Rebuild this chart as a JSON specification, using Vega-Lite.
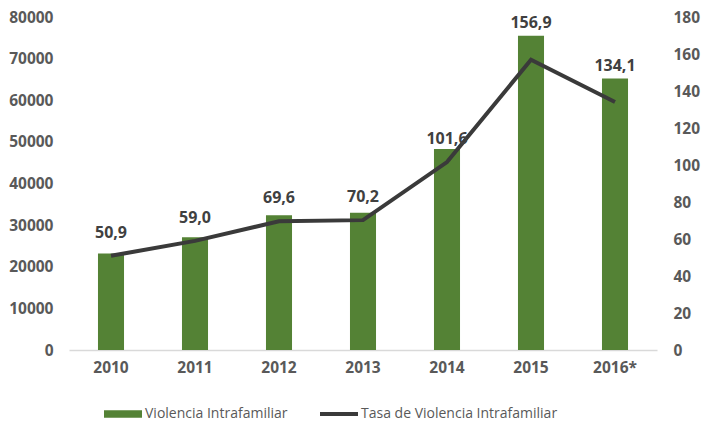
{
  "$schema": "https://vega.github.io/schema/vega-lite/v6.json",
  "width": 588,
  "height": 333,
  "autosize": {"type": "none"},
  "padding": {"left": 69, "top": 17, "right": 44, "bottom": 72},
  "background": "white",
  "data": {
    "values": [
      {"year": "2010", "count": 23200, "rate": 50.9, "label": "50,9"},
      {"year": "2011", "count": 27100, "rate": 59.0, "label": "59,0"},
      {"year": "2012", "count": 32400, "rate": 69.6, "label": "69,6"},
      {"year": "2013", "count": 33000, "rate": 70.2, "label": "70,2"},
      {"year": "2014", "count": 48300, "rate": 101.6, "label": "101,6"},
      {"year": "2015", "count": 75500, "rate": 156.9, "label": "156,9"},
      {"year": "2016*", "count": 65200, "rate": 134.1, "label": "134,1"}
    ]
  },
  "encoding": {
    "x": {
      "field": "year", "type": "nominal", "sort": null,
      "scale": {"paddingInner": 0.69, "paddingOuter": 0.345},
      "axis": {"labelAngle": 0, "domainColor": "#d9d9d9", "domainWidth": 1.5, "labelPadding": 10}
    }
  },
  "layer": [
    {
      "encoding": {
        "y": {"field": "count", "type": "quantitative", "scale": {"domain": [0, 80000]},
          "axis": {"values": [0, 10000, 20000, 30000, 40000, 50000, 60000, 70000, 80000], "domain": false, "labelPadding": 16, "format": "d", "labelOverlap": false}}
      },
      "layer": [
        {
          "mark": {"type": "bar", "color": "#548235"},
          "encoding": {
            "color": {
              "datum": "Violencia Intrafamiliar", "type": "nominal",
              "legend": {
                "encode": {
                  "symbols": {
                    "update": {
                      "shape": {"signal": "datum.value === 'Violencia Intrafamiliar' ? 'M-1,-0.2H1V0.2H-1Z' : 'M-1,-0.1H1V0.1H-1Z'"}
                    }
                  }
                }
              }
            }
          }
        },
        {
          "transform": [{"filter": {"field": "year", "oneOf": ["2015", "2016*"]}}],
          "mark": {"type": "text", "dy": -13, "fontSize": 16, "fontWeight": "bold", "color": "#404040", "font": "Open Sans"},
          "encoding": {
            "text": {"field": "label", "type": "nominal"}
          }
        }
      ]
    },
    {
      "encoding": {
        "y": {"field": "rate", "type": "quantitative", "scale": {"domain": [0, 180], "nice": false},
          "axis": {"orient": "right", "values": [0, 20, 40, 60, 80, 100, 120, 140, 160, 180], "tickCount": 10, "domain": false, "labelPadding": 16, "labelOverlap": false}}
      },
      "layer": [
        {
          "mark": {"type": "line", "strokeWidth": 4, "color": "#3a3a3a"},
          "encoding": {
            "color": {"datum": "Tasa de Violencia Intrafamiliar", "type": "nominal"}
          }
        },
        {
          "transform": [{"filter": {"field": "year", "oneOf": ["2010", "2011", "2012", "2013", "2014"]}}],
          "mark": {"type": "text", "dy": -23, "fontSize": 16, "fontWeight": "bold", "color": "#404040", "font": "Open Sans"},
          "encoding": {
            "text": {"field": "label", "type": "nominal"}
          }
        }
      ]
    }
  ],
  "resolve": {"scale": {"y": "independent"}},
  "config": {
    "view": {"stroke": null},
    "font": "Open Sans",
    "axis": {"grid": false, "ticks": false, "labelFont": "Open Sans", "labelFontWeight": "bold", "labelColor": "#595959", "labelFontSize": 15.5, "title": null},
    "range": {"category": ["#548235", "#3a3a3a"]},
    "legend": {
      "orient": "none",
      "legendX": 35,
      "legendY": 378,
      "direction": "horizontal",
      "title": null,
      "labelFont": "Open Sans",
      "labelFontSize": 14,
      "labelColor": "#595959",
      "labelOffset": 3,
      "labelLimit": 400,
      "columnPadding": 32,
      "symbolSize": 1444,
      "symbolStrokeWidth": 0,
      "symbolType": "M-1,-0.2H1V0.2H-1Z"
    }
  }
}
